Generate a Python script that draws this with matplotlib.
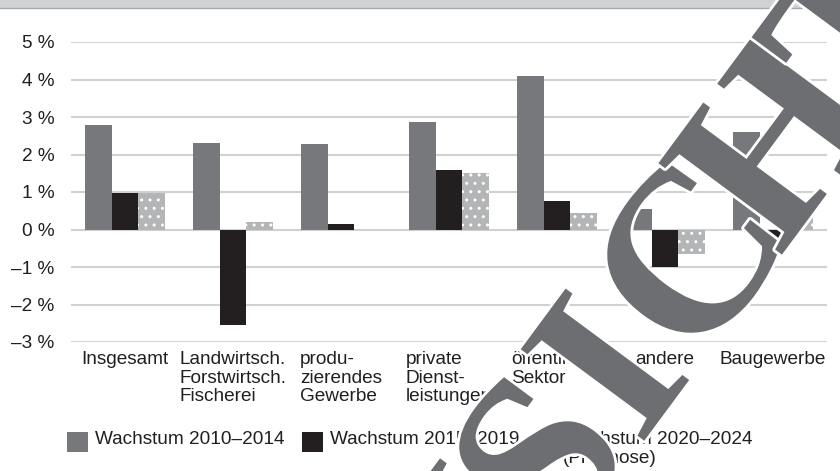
import matplotlib
matplotlib.use("Agg")
import matplotlib.pyplot as plt
import matplotlib.patheffects as pe
from matplotlib.patches import Rectangle
import numpy as np

plt.rcParams['font.family'] = ['Liberation Sans', 'DejaVu Sans']

# Daten (Wachstum in %)
categories = ["Insgesamt", "Landwirtsch.\nForstwirtsch.\nFischerei",
              "produ-\nzierendes\nGewerbe", "private\nDienst-\nleistungen",
              "öffentlicher\nSektor", "andere", "Baugewerbe"]
w_2010_2014 = [2.8, 2.3, 2.27, 2.86, 4.09, 0.55, 2.6]
w_2015_2019 = [0.98, -2.54, 0.15, 1.6, 0.76, -1.0, -0.33]
w_2020_2024 = [0.98, 0.2, 0.0, 1.51, 0.45, -0.64, 0.75]
series_labels = ["Wachstum 2010–2014", "Wachstum 2015–2019",
                 "Wachstum 2020–2024\n(Prognose)"]
yticks = list(range(-3, 6))

W, H = 840, 471
c_gray, c_black, c_light = "#77787b", "#231f20", "#b4b5b7"
fs = 13.7

fig = plt.figure(figsize=(W / 100, H / 100), dpi=100)
ax = fig.add_axes([71 / W, 129 / H, 756 / W, 300 / H])

x = np.arange(len(categories))
bw = 0.247
ax.bar(x - bw, w_2010_2014, bw, color=c_gray, linewidth=0, zorder=2)
ax.bar(x, w_2015_2019, bw, color=c_black, linewidth=0, zorder=2)
ax.bar(x + bw, w_2020_2024, bw, color=c_light, edgecolor="white",
       hatch="..", linewidth=0, zorder=2)

ax.set_xlim(-0.5, len(categories) - 0.5)
ax.set_ylim(-3, 5)
ax.set_yticks(yticks)
ax.set_yticklabels([f"{v} %".replace("-", "–") for v in yticks])
ax.set_xticks(x)
ax.set_xticklabels(categories)
for lab in ax.get_xticklabels():
    lab.set_multialignment("left")
    lab.set_linespacing(1.13)
ax.tick_params(axis="both", length=0, labelsize=fs, labelcolor="#231f20")
ax.tick_params(axis="y", pad=12)
ax.tick_params(axis="x", pad=6.5)
ax.grid(axis="y", color="#d1d1d1", linewidth=1.5, zorder=0)
ax.set_axisbelow(True)
for s in ax.spines.values():
    s.set_visible(False)

# Balken oben
fig.add_artist(Rectangle((0, 1 - 7 / H), 1, 7 / H, transform=fig.transFigure,
                         color="#d1d2d4", zorder=1))
fig.add_artist(plt.Line2D([0, 1], [1 - 7.5 / H] * 2, transform=fig.transFigure,
                          color="#a8a9ab", linewidth=1))

# Legende
leg_x = [67, 302, 535]
leg_cols = [c_gray, c_black, c_light]
for lx, col, lab in zip(leg_x, leg_cols, series_labels):
    kw = dict(hatch="..", edgecolor="white", linewidth=0) if col == c_light else dict(linewidth=0)
    fig.add_artist(Rectangle((lx / W, 1 - 452 / H), 21 / W, 20 / H,
                             transform=fig.transFigure, facecolor=col, **kw))
    fig.text((lx + 28) / W, 1 - 431 / H, lab, fontsize=fs, color="#231f20",
             ha="left", va="top", linespacing=1.13)

# Wasserzeichen "ANSICHT", Buchstaben einzeln entlang der Diagonale
ang = 53.5
u = np.array([np.cos(np.radians(ang)), -np.sin(np.radians(ang))])   # Grundlinie (Pixel, y nach unten)
up = np.array([-np.sin(np.radians(ang)), -np.cos(np.radians(ang))])
ref = np.array([604.0, 364.0])   # Mitte des "I"
for ch, d in zip("ANSICHT", [-390, -255, -115, 0, 136, 281, 425]):
    c = ref + d * u - 78 * up
    fig.text(c[0] / W, 1 - c[1] / H, ch, fontsize=169, family="Liberation Serif",
             weight="bold", color="#6d6e71", rotation=ang, rotation_mode="anchor",
             ha="center", va="baseline", zorder=10,
             path_effects=[pe.withStroke(linewidth=4, foreground="white")])

fig.savefig("out.png", dpi=100)
